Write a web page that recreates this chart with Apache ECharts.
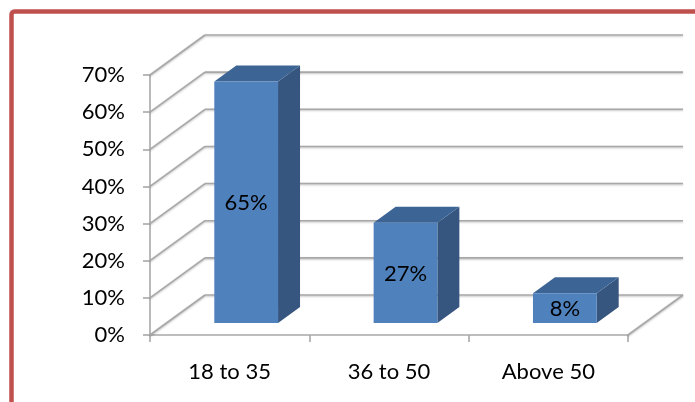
<!DOCTYPE html>
<html><head><meta charset="utf-8">
<script src="https://cdn.jsdelivr.net/npm/echarts@6/dist/echarts.min.js"></script>
<style>html,body{margin:0;padding:0;background:#fff}#c{width:695px;height:402px}</style>
</head><body><div id="c"></div>
<script>
const categories = ['18 to 35', '36 to 50', 'Above 50'];
const values = [65, 27, 8];
const yTicks = [0, 10, 20, 30, 40, 50, 60, 70];
const yTickLabels = ['0%', '10%', '20%', '30%', '40%', '50%', '60%', '70%'];

const DX = 55, DY = -40;           // depth offset of back wall
const FRONT = 0.3, DEPTH = 0.4;    // bar position within depth
const FONT = 'Lato';
const FS = 22;
const gridStyle = { stroke: '#a8a8a8', lineWidth: 1.6, shadowBlur: 2, shadowColor: 'rgba(0,0,0,0.25)', shadowOffsetY: 1 };

const chart = echarts.init(document.getElementById('c'), null, { renderer: 'canvas' });
chart.setOption({
  animation: false,
  graphic: [{
    type: 'rect', z: 100,
    shape: { x: 11.5, y: 11.5, width: 900, height: 600, r: 3 },
    style: { fill: 'none', stroke: '#c0504d', lineWidth: 4.5 }
  }],
  grid: { left: 150, right: 67, top: 75, bottom: 67 },
  xAxis: {
    type: 'category', data: categories,
    axisLine: { show: true, lineStyle: { color: '#a8a8a8', width: 1.6 } },
    axisTick: { show: true, length: 7, lineStyle: { color: '#a8a8a8', width: 1.6 } },
    axisLabel: { color: '#000', fontSize: FS, fontFamily: FONT, margin: 26 },
    splitLine: { show: false }
  },
  yAxis: {
    type: 'value', min: 0, max: 70, interval: 10,
    axisLine: { show: true, lineStyle: { color: '#a8a8a8', width: 1.6 } },
    axisTick: { show: true, length: 7, lineStyle: { color: '#a8a8a8', width: 1.6 } },
    axisLabel: { color: '#000', fontSize: FS, fontFamily: FONT, margin: 25,
      formatter: v => yTickLabels[yTicks.indexOf(v)] },
    splitLine: { show: false }
  },
  series: [
    {
      type: 'custom', z: 1, silent: true,
      data: yTicks.map(v => [0, v]),
      renderItem(params, api) {
        const cs = params.coordSys;
        const left = cs.x, right = cs.x + cs.width;
        const v = api.value(1);
        const y = api.coord([0, v])[1];
        const ch = [
          { type: 'line', shape: { x1: left, y1: y, x2: left + DX, y2: y + DY }, style: gridStyle },
          { type: 'line', shape: { x1: left + DX, y1: y + DY, x2: right + DX, y2: y + DY }, style: gridStyle }
        ];
        if (v === 0) ch.push({ type: 'line', shape: { x1: right, y1: y, x2: right + DX, y2: y + DY }, style: gridStyle });
        return { type: 'group', children: ch };
      }
    },
    {
      type: 'custom', z: 5, silent: true,
      data: values.map((v, i) => [i, v]),
      renderItem(params, api) {
        const i = api.value(0), v = api.value(1);
        const base = api.coord([i, 0]);
        const top = api.coord([i, v]);
        const band = api.size([1, 0])[0];
        const w = band * 0.4;
        const fx = base[0] - w / 2 + DX * FRONT;
        const fy0 = base[1] + DY * FRONT;
        const fy1 = top[1] + DY * FRONT;
        const ddx = DX * DEPTH, ddy = DY * DEPTH;
        return {
          type: 'group', children: [
            { type: 'polygon', shape: { points: [[fx + w, fy1], [fx + w + ddx, fy1 + ddy], [fx + w + ddx, fy0 + ddy], [fx + w, fy0]] },
              style: { fill: '#36557f' } },
            { type: 'polygon', shape: { points: [[fx, fy1], [fx + w, fy1], [fx + w + ddx, fy1 + ddy], [fx + ddx, fy1 + ddy]] },
              style: { fill: '#3c6494' } },
            { type: 'rect', shape: { x: fx, y: fy1, width: w, height: fy0 - fy1 },
              style: { fill: '#4f81bd' } },
            { type: 'text', style: { text: v + '%', x: fx + w / 2, y: (fy0 + fy1) / 2 + 1, align: 'center', verticalAlign: 'middle',
              fontSize: FS, fontFamily: FONT, fill: '#000' } }
          ]
        };
      }
    }
  ]
});
</script></body></html>
